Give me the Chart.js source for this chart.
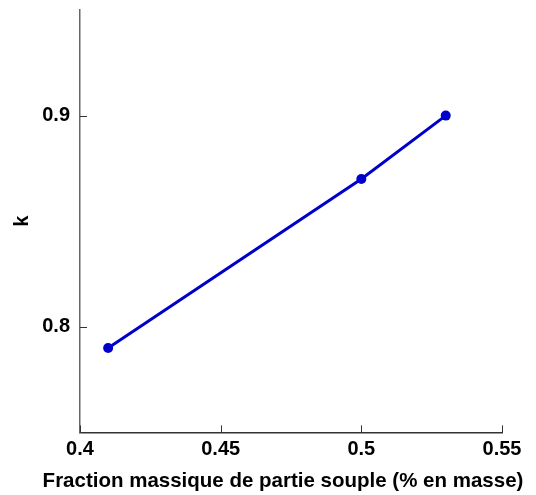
<!DOCTYPE html>
<html>
<head>
<meta charset="utf-8">
<script src="https://cdn.jsdelivr.net/npm/chart.js@4"></script>
<style>
  html, body { margin: 0; padding: 0; background: #fff; }
  #wrap { width: 536px; height: 495px; }
</style>
</head>
<body>
<div id="wrap"><canvas id="kChart" width="536" height="495"></canvas></div>
<script>
// Soft-segment mass fraction vs k
const fractions = [0.41, 0.50, 0.53];
const kValues = [0.79, 0.87, 0.90];
const xTicks = [0.4, 0.45, 0.5, 0.55];
const yTicks = [0.8, 0.9];

const FONT = "'Liberation Sans', Arial, Helvetica, sans-serif";
const AXIS_COLOR = '#333';

// Short tick marks pointing into the plot area
const inwardTicks = {
    id: 'inwardTicks',
    afterDraw(chart) {
        const ctx = chart.ctx;
        const x = chart.scales.x, y = chart.scales.y;
        const area = chart.chartArea;
        ctx.save();
        ctx.strokeStyle = AXIS_COLOR;
        ctx.lineWidth = 1;
        xTicks.forEach(v => {
            const px = Math.round(x.getPixelForValue(v)) + 0.5;
            ctx.beginPath();
            ctx.moveTo(px, area.bottom);
            ctx.lineTo(px, area.bottom - 7);
            ctx.stroke();
        });
        yTicks.forEach(v => {
            const py = Math.round(y.getPixelForValue(v)) + 0.5;
            ctx.beginPath();
            ctx.moveTo(area.left, py);
            ctx.lineTo(area.left + 7, py);
            ctx.stroke();
        });
        ctx.restore();
    }
};

new Chart(document.getElementById('kChart'), {
    type: 'scatter',
    data: {
        datasets: [{
            data: fractions.map((f, i) => ({ x: f, y: kValues[i] })),
            showLine: true,
            borderColor: '#0000cc',
            backgroundColor: '#0000cc',
            borderWidth: 3,
            pointRadius: 5,
            pointBorderWidth: 0,
            pointHoverRadius: 5,
        }]
    },
    options: {
        responsive: false,
        animation: false,
        layout: { padding: { top: 0, right: 2, bottom: 1, left: 32 } },
        plugins: {
            legend: { display: false },
            tooltip: { enabled: false },
            title: {
                display: true,
                position: 'bottom',
                text: 'Fraction massique de partie souple (% en masse)',
                color: '#000',
                font: { family: FONT, size: 20.5, weight: 'bold' },
                padding: { top: 0, bottom: 0 }
            }
        },
        scales: {
            x: {
                type: 'linear',
                min: 0.4,
                max: 0.55,
                afterBuildTicks: s => { s.ticks = xTicks.map(v => ({ value: v })); },
                afterFit: s => {
                    s.height = 37;
                    s.paddingLeft = 0;
                    s.paddingRight = 34;
                },
                grid: { display: false, drawTicks: false },
                border: { display: true, color: AXIS_COLOR, width: 1.5 },
                ticks: {
                    padding: 5,
                    color: '#000',
                    maxRotation: 0,
                    font: { family: FONT, size: 20, weight: 'bold' },
                    callback: v => String(v)
                }
            },
            y: {
                type: 'linear',
                min: 0.75,
                max: 0.95,
                afterBuildTicks: s => { s.ticks = yTicks.map(v => ({ value: v })); },
                afterFit: s => {
                    s.width = 48;
                    s.paddingTop = 10;
                    s.paddingBottom = 0;
                },
                grid: { display: false, drawTicks: false },
                border: { display: true, color: '#666', width: 1.5 },
                title: {
                    display: true,
                    text: 'k',
                    color: '#000',
                    font: { family: FONT, size: 20, weight: 'bold' },
                    padding: { top: -22, bottom: 0 }
                },
                ticks: {
                    padding: 10,
                    color: '#000',
                    font: { family: FONT, size: 20, weight: 'bold' },
                    callback: v => String(v)
                }
            }
        }
    },
    plugins: [inwardTicks]
});
</script>
</body>
</html>
